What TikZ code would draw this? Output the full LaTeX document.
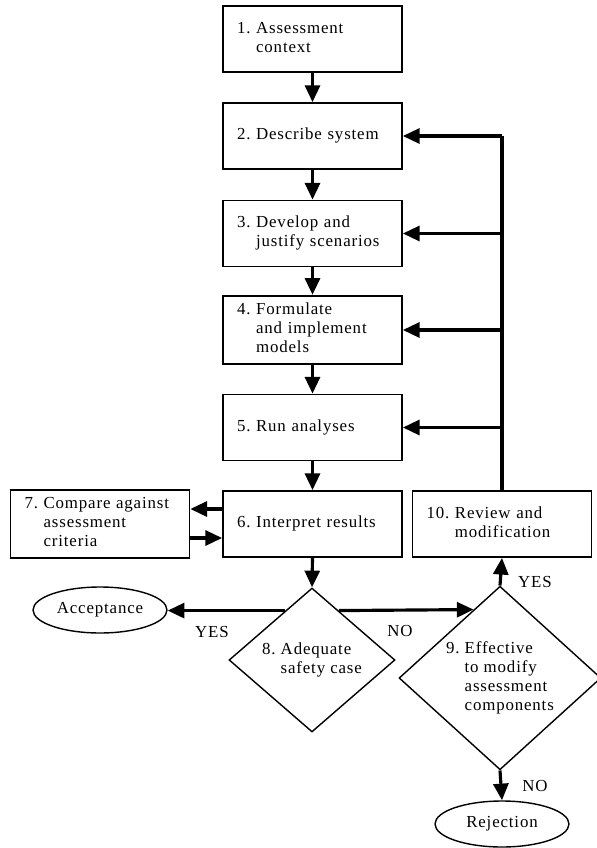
\documentclass[tikz,border=0pt]{standalone}
\usepackage{fontspec}
\setmainfont{Liberation Serif}[LetterSpace=5]
\usetikzlibrary{shapes,shapes.geometric,arrows.meta,calc}

% number, then lines aligned after it
\newcommand{\lbl}[2]{#1~\begin{tabular}[t]{@{}l@{}}#2\end{tabular}}

\begin{document}
\begin{tikzpicture}
	[x=0.02cm,y=-0.02cm,
	every node/.style={font=\fontsize{9.6}{10.8}\selectfont},
	box/.style={draw,line width=1pt,rectangle,minimum height=1.32cm,
		text width=3.02cm,inner xsep=0.28cm,align=left},
	decision/.style={draw,line width=0.8pt,diamond,inner sep=0pt},
	terminal/.style={draw,line width=0.8pt,ellipse,minimum width=2.68cm,
		minimum height=0.92cm,inner sep=0pt},
	arr/.style={line width=1.8pt,-{Triangle[length=9.5pt,width=8.5pt]}}]
	\useasboundingbox (0,0) rectangle (597,848);
	
	\node[box] (b1) at (312.5,39) {\lbl{1.}{Assessment\\context}};
	\node[box] (b2) at (312.5,136) {\lbl{2.}{Describe system}};
	\node[box] (b3) at (312.5,233.5) {\lbl{3.}{Develop and\\justify scenarios}};
	\node[box] (b4) at (312.5,330) {\lbl{4.}{Formulate\\and implement\\models}};
	\node[box] (b5) at (312.5,427.5) {\lbl{5.}{Run analyses}};
	\node[box] (b6) at (312.5,524) {\lbl{6.}{Interpret results}};
	\node[box] (b7) at (100,524) {\lbl{7.}{Compare against\\assessment\\criteria}};
	\node[box] (b10) at (502,524) {\lbl{10.}{Review and\\modification}};
	
	\node[decision,minimum width=3.32cm,minimum height=2.88cm] (d8)
		at (312,660) {\lbl{8.}{Adequate\\safety case}};
	\node[decision,minimum width=4.04cm,minimum height=3.62cm] (d9)
		at (500,678) {\lbl{9.}{Effective\\to modify\\assessment\\components}};
	
	\node[terminal] (acc) at (100,610) {Acceptance};
	\node[terminal] (rej) at (502,824) {Rejection};
	
	\node (yes8) at (212,632) {YES};
	\node (no8) at (400,631) {NO};
	\node (yes9) at (535,582) {YES};
	\node (no9) at (535,786) {NO};
	
	% main column
	\foreach \startNode/\endNode in {b1/b2, b2/b3, b3/b4, b4/b5, b5/b6, b6/d8}
	{
		\draw[arr] (\startNode.south) -- (\endNode.north);
	}
	\draw[arr] ([yshift=0.3cm]b6.west) -- ([yshift=0.3cm]b7.east);
	\draw[arr] ([yshift=-0.28cm]b7.east) -- ([yshift=-0.28cm]b6.west);
	
	% decisions
	\coordinate (yl) at ($(d8.north)!0.32!(d8.west)$);
	\coordinate (nl) at ($(d8.north)!0.32!(d8.east)$);
	\draw[arr] (yl) -- (yl -| acc.east);
	\draw[arr] (nl) -- ($(d9.north)!0.26!(d9.west)$);
	\draw[arr] (d9.north) -- (b10.south);
	\draw[arr] (d9.south) -- (rej.north);
	
	% feedback
	\draw[line width=1.8pt] (b10.north) -- (b10.north |- b2.east);
	\foreach \endNode in {b2, b3, b4, b5}
	{
		\draw[arr] (b10.north |- \endNode.east) -- (\endNode.east);
	}
\end{tikzpicture}
\end{document}
